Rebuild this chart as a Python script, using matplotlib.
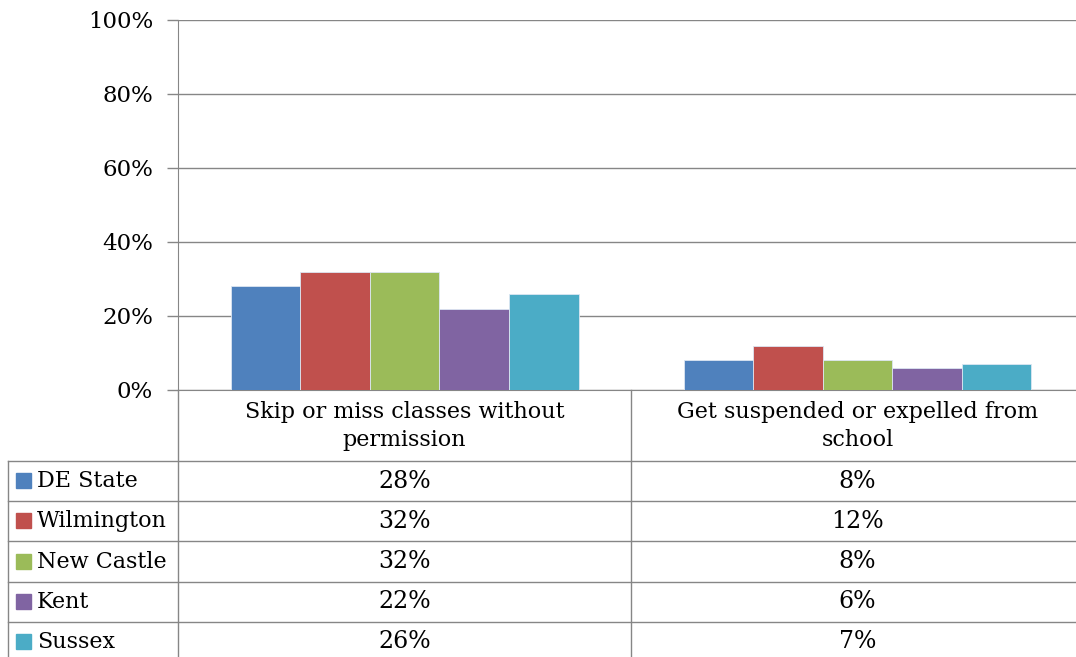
import numpy as np
from matplotlib import pyplot as plt
from matplotlib.lines import Line2D
from matplotlib.ticker import PercentFormatter

categories = ["Skip or miss classes without\npermission",
              "Get suspended or expelled from\nschool"]
regions = ["DE State", "Wilmington", "New Castle", "Kent", "Sussex"]
skip_class = [28, 32, 32, 22, 26]
suspended = [8, 12, 8, 6, 7]
colors = ["#4F81BD", "#C0504D", "#9BBB59", "#8064A2", "#4BACC6"]

W, H = 1076, 657
plt.rcParams["font.family"] = ["DejaVu Serif"]
FS = 16
GRID = "#868686"

fig = plt.figure(figsize=(W / 100, H / 100), dpi=100)


def fx(px):
    return px / W


def fy(py):
    return 1 - py / H


ax = fig.add_axes([fx(178), fy(390), fx(1084) - fx(178), fy(20) - fy(390)])

values = np.array([skip_class, suspended]).T
n = len(regions)
bar_w = 348 / 453 / n
x = np.arange(len(categories)) + 0.5
for i, (name, vals) in enumerate(zip(regions, values)):
    ax.bar(x + (i - (n - 1) / 2) * bar_w, vals, width=bar_w, color=colors[i],
           edgecolor="#dce6f2", linewidth=0.6, zorder=3)

ax.set_xlim(0, 2)
ax.set_ylim(0, 100)
ax.set_yticks(np.arange(0, 101, 20))
ax.yaxis.set_major_formatter(PercentFormatter(decimals=0))
ax.set_xticks([])
ax.grid(axis="y", color=GRID, linewidth=1, zorder=0)
ax.tick_params(axis="y", length=8, width=1, color=GRID, labelsize=FS + 0.5, pad=10)
for side in ["top", "right"]:
    ax.spines[side].set_visible(False)
ax.spines["left"].set_color(GRID)
ax.spines["bottom"].set_color(GRID)


def hline(y, x0, x1):
    fig.add_artist(Line2D([fx(x0), fx(x1)], [fy(y), fy(y)], color=GRID, lw=1,
                          transform=fig.transFigure))


def vline(xp, y0, y1):
    fig.add_artist(Line2D([fx(xp), fx(xp)], [fy(y0), fy(y1)], color=GRID, lw=1,
                          transform=fig.transFigure))


# data table below the chart
row_tops = [461, 501, 541, 582, 622, 662]
for y in row_tops:
    hline(y, 8, W)
vline(8, 461, H)
vline(178, 390, H)
vline(631, 390, H)

col_centers = [404.5, 857.5]
for c, label in zip(col_centers, categories):
    fig.text(fx(c), fy(426), label, ha="center", va="center", fontsize=FS,
             linespacing=1.3)

for r, name in enumerate(regions):
    yc = (row_tops[r] + row_tops[r + 1]) / 2
    fig.add_artist(plt.Rectangle((fx(16), fy(yc + 7)), fx(15), fy(yc - 8) - fy(yc + 7),
                                 color=colors[r], transform=fig.transFigure))
    fig.text(fx(37), fy(yc), name, ha="left", va="center", fontsize=FS)
    for c, v in zip(col_centers, values[r]):
        fig.text(fx(c), fy(yc), f"{v}%", ha="center", va="center", fontsize=FS + 1)

fig.savefig("out.png", dpi=100)
